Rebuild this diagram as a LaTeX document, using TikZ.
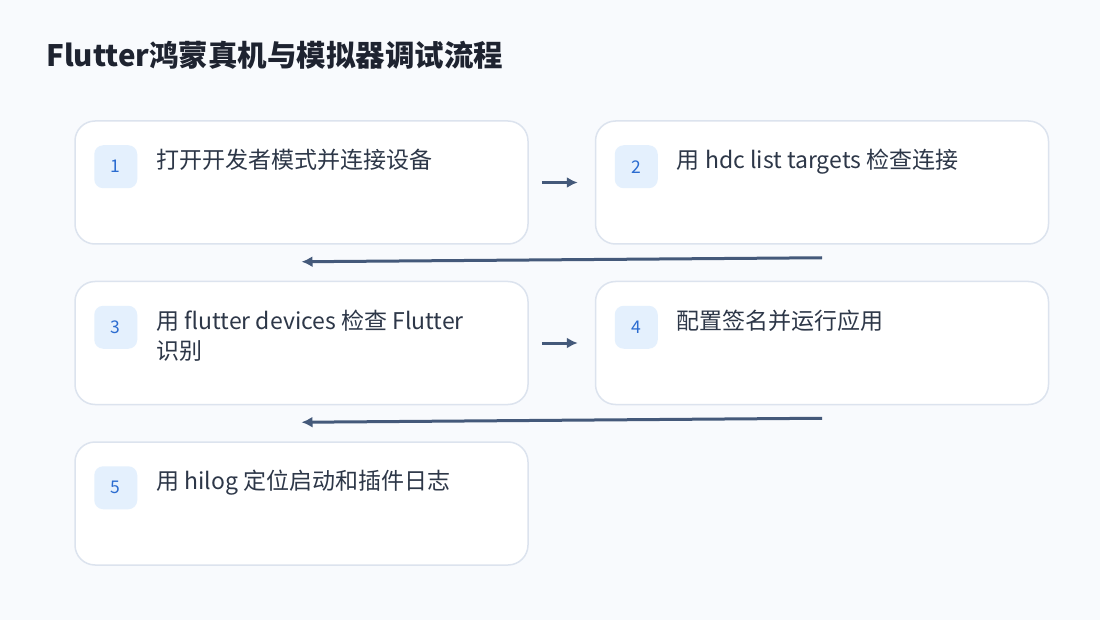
\documentclass[tikz,border=0pt]{standalone}
\usepackage{fontspec}
\setmainfont{Noto Sans CJK SC}
\usepackage{xcolor}
\usetikzlibrary{arrows.meta, positioning}
\definecolor{bgcol}{HTML}{F8FAFD}
\definecolor{boxline}{HTML}{DCE3EE}
\definecolor{badgefill}{HTML}{E4F0FD}
\definecolor{badgetext}{HTML}{2B6CD0}
\definecolor{stepcol}{HTML}{2D3748}
\definecolor{titlecol}{HTML}{1E2330}
\definecolor{arrcol}{HTML}{44597A}

\begin{document}
\begin{tikzpicture}[x=1pt, y=-1pt,
  block/.style={rectangle, draw=boxline, line width=1.5pt, fill=white, rounded corners=20pt, minimum width=453pt, minimum height=123pt},
  badge/.style={rectangle, fill=badgefill, rounded corners=9pt, minimum size=43pt, inner sep=0pt, text=badgetext, font=\fontsize{17.5}{20}\selectfont},
  steptext/.style={anchor=north west, inner sep=0pt, align=left, text=stepcol, font=\fontsize{23}{30.5}\selectfont},
  arr/.style={draw=arrcol, line width=3pt, -{Latex[length=11pt,width=11pt]}}
]
\fill[bgcol] (0,0) rectangle (1100,620);
\node[anchor=base west, inner sep=0pt, text=titlecol, font=\fontsize{29.5}{34}\selectfont\bfseries] (title) at (46,67) {Flutter鸿蒙真机与模拟器调试流程};

\node[block] (devmode) at (301.5,182.5) {};
\node[block, right=66pt of devmode] (hdc) {};
\node[block, below=36pt of devmode] (devices) {};
\node[block, right=66pt of devices] (sign) {};
\node[block, below=36pt of devices] (hilog) {};

\node[badge] (b1) at ([xshift=41.5pt,yshift=-46.5pt]devmode.north west) {1};
\node[badge] (b2) at ([xshift=41.5pt,yshift=-46.5pt]hdc.north west) {2};
\node[badge] (b3) at ([xshift=41.5pt,yshift=-46.5pt]devices.north west) {3};
\node[badge] (b4) at ([xshift=41.5pt,yshift=-46.5pt]sign.north west) {4};
\node[badge] (b5) at ([xshift=41.5pt,yshift=-46.5pt]hilog.north west) {5};

\node[steptext] (t1) at ([xshift=82pt,yshift=-29pt]devmode.north west) {打开开发者模式并连接设备};
\node[steptext] (t2) at ([xshift=82pt,yshift=-29pt]hdc.north west) {用 hdc list targets 检查连接};
\node[steptext] (t3) at ([xshift=82pt,yshift=-29pt]devices.north west) {用 flutter devices 检查 Flutter\\识别};
\node[steptext] (t4) at ([xshift=82pt,yshift=-29pt]sign.north west) {配置签名并运行应用};
\node[steptext] (t5) at ([xshift=82pt,yshift=-29pt]hilog.north west) {用 hilog 定位启动和插件日志};

\draw[arr] ([xshift=13pt]devmode.east) -- ([xshift=-17pt]hdc.west);
\draw[arr] ([yshift=-13pt]hdc.south) -- ([yshift=19pt]devices.north);
\draw[arr] ([xshift=13pt]devices.east) -- ([xshift=-17pt]sign.west);
\draw[arr] ([yshift=-13pt]sign.south) -- ([yshift=19pt]hilog.north);
\end{tikzpicture}
\end{document}
